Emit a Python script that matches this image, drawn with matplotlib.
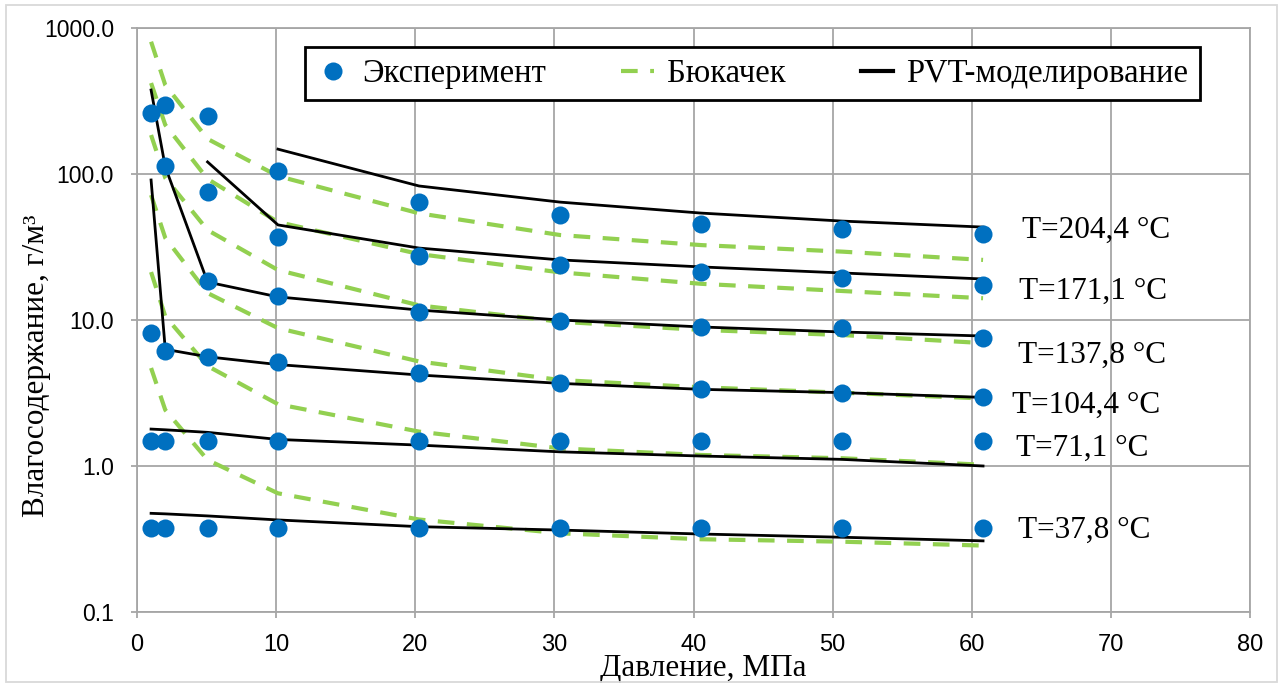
import numpy as np
import matplotlib
matplotlib.use('Agg')
import matplotlib.pyplot as plt
from matplotlib.lines import Line2D
from matplotlib.patches import Rectangle

# pressure points, MPa
pressure = [1.01, 2.03, 5.07, 10.13, 20.27, 30.41, 40.54, 50.68, 60.81]
temps = ['204,4', '171,1', '137,8', '104,4', '71,1', '37,8']

# measured water content, g/m3 (nan = no point)
nan = np.nan
exp_vals = {
    '204,4': [nan, 297, 250, 105, 64.3, 52.3, 45.5, 42.0, 38.8],
    '171,1': [nan, nan, 75.7, 37.2, 27.4, 23.8, 21.4, 19.3, 17.5],
    '137,8': [262, 113, 18.5, 14.6, 11.4, 9.9, 9.0, 8.86, 7.5],
    '104,4': [8.18, 6.17, 5.61, 5.13, 4.35, 3.72, 3.35, 3.15, 2.99],
    '71,1': [1.49, 1.49, 1.49, 1.49, 1.49, 1.49, 1.49, 1.49, 1.49],
    '37,8': [0.374, 0.374, 0.374, 0.374, 0.374, 0.374, 0.374, 0.374, 0.374],
}

# Bukacek correlation
buk_vals = {
    '204,4': [806, 407, 174, 96.8, 53.8, 38.2, 32.6, 29.4, 25.8],
    '171,1': [420, 217, 92.5, 46.9, 28.3, 21.2, 17.7, 15.8, 14.1],
    '137,8': [185, 94, 41.3, 22.0, 12.6, 9.73, 8.55, 7.89, 6.95],
    '104,4': [71.8, 36.5, 15.3, 8.8, 5.2, 3.88, 3.46, 3.18, 2.9],
    '71,1': [21.3, 10.6, 4.84, 2.65, 1.72, 1.32, 1.19, 1.13, 1.02],
    '37,8': [4.69, 2.42, 1.1, 0.65, 0.43, 0.346, 0.315, 0.303, 0.285],
}

# PVT model
pvt_vals = {
    '204,4': [nan, nan, nan, 148, 82.8, 64.2, 54.0, 47.6, 43.3],
    '171,1': [nan, nan, 121, 44.8, 31.1, 25.8, 23.1, 21.0, 19.1],
    '137,8': [376, 112, 18.2, 14.4, 11.7, 10.0, 8.96, 8.28, 7.77],
    '104,4': [91, 6.3, 5.6, 4.95, 4.2, 3.68, 3.35, 3.18, 2.95],
    '71,1': [1.79, 1.77, 1.70, 1.52, 1.39, 1.25, 1.17, 1.11, 1.0],
    '37,8': [0.474, 0.47, 0.455, 0.427, 0.384, 0.364, 0.342, 0.325, 0.307],
}

# label anchor for each isotherm (x, y)
label_pos = {
    '204,4': (63.6, 41.3),
    '171,1': (63.4, 15.6),
    '137,8': (63.3, 5.75),
    '104,4': (62.9, 2.62),
    '71,1': (63.2, 1.33),
    '37,8': (63.3, 0.365),
}

blue = '#0070C0'
green = '#92D050'
gridc = '#A6A6A6'
serif = ['Liberation Serif', 'DejaVu Serif']

fig = plt.figure(figsize=(12.83, 6.87), dpi=100)
ax = fig.add_axes([0.1068, 0.1092, 0.8675, 0.85])

x = np.array(pressure)
for t in temps:
    ax.plot(x, buk_vals[t], color=green, lw=3, ls=(0, (4, 3)), zorder=2)
    p = np.array(pvt_vals[t])
    m = ~np.isnan(p)
    ax.plot(x[m], p[m], color='black', lw=2, zorder=3)
    e = np.array(exp_vals[t])
    m = ~np.isnan(e)
    ax.plot(x[m], e[m], 'o', color=blue, ms=13, mec='none', zorder=4)
    lx, ly = label_pos[t]
    ax.text(lx, ly, 'T=%s °C' % t, fontsize=22.5, family=serif,
            ha='left', va='center')

ax.set_yscale('log')
ax.set_xlim(0, 80)
ax.set_ylim(0.1, 1000)
ax.set_xticks(range(0, 81, 10))
ax.set_yticks([0.1, 1, 10, 100, 1000])
ax.set_yticklabels(['0.1', '1.0', '10.0', '100.0', '1000.0'])
ax.minorticks_off()
ax.grid(True, color=gridc, lw=1.3)
ax.set_axisbelow(True)
for s in ax.spines.values():
    s.set_color(gridc)
    s.set_linewidth(1.3)
ax.tick_params(axis='both', color=gridc, width=1.3, length=4.5)
ax.tick_params(axis='y', pad=12)
ax.tick_params(axis='x', pad=11)
for lab in ax.get_yticklabels():
    lab.set_family(['Liberation Sans', 'DejaVu Sans'])
    lab.set_fontsize(16.5)
for lab in ax.get_xticklabels():
    lab.set_family(['Liberation Sans Narrow', 'Liberation Sans', 'DejaVu Sans'])
    lab.set_fontsize(17)

ax.set_xlabel('Давление, МПа', fontsize=22.5, family=serif)
ax.xaxis.set_label_coords(0.5085, -0.096)
ax.xaxis.label.set_verticalalignment('center')
ax.set_ylabel('Влагосодержание, г/м³', fontsize=22.5, family=serif)
ax.yaxis.set_label_coords(-0.0907, 0.421)
ax.yaxis.label.set_verticalalignment('center')

handles = [
    Line2D([], [], ls='none', marker='o', color=blue, ms=13, mec='none'),
    Line2D([], [], color=green, lw=3, ls=(0, (4, 3))),
    Line2D([], [], color='black', lw=3),
]
leg = ax.legend(handles, ['Эксперимент', 'Бюкачек', 'PVT-моделирование'],
                ncol=3, loc='upper left', bbox_to_anchor=(0.151, 0.9675),
                borderaxespad=0, fancybox=False, framealpha=1,
                edgecolor='black', prop={'family': serif, 'size': 23.5},
                handlelength=1.0, handletextpad=0.4, columnspacing=2.3,
                borderpad=0.35)
leg.get_frame().set_linewidth(2)

# light border round the whole chart
fig.patches.append(Rectangle((0.005, 0.008), 0.99, 0.984, transform=fig.transFigure,
                             fill=False, edgecolor='#D9D9D9', lw=1.3))

fig.savefig('out.png', dpi=100)
